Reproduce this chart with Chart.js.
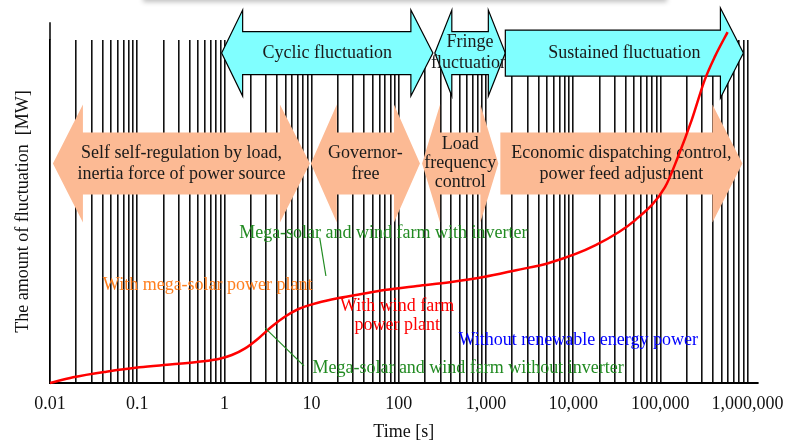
<!DOCTYPE html>
<html>
<head>
<meta charset="utf-8">
<script src="https://cdn.jsdelivr.net/npm/chart.js@4/dist/chart.umd.min.js"></script>
<style>
  body { margin: 0; background: #fff; }
  #wrap { position: relative; width: 794px; height: 443px; overflow: hidden; }
  #shade { position: absolute; left: 143px; width: 524px; top: -10px; height: 10px;
           box-shadow: 0 2px 5px rgba(0,0,0,0.25); background: #fff; }
</style>
</head>
<body>
<div id="wrap">
  <canvas id="chart" width="794" height="443"></canvas>
  <div id="shade"></div>
</div>
<script>
// red curve
const times = [0.01, 0.0184, 0.0442, 0.106, 0.253, 0.508, 0.859, 1.217, 1.73, 2.45, 3.47, 4.93, 6.98,
    11.8, 19.9, 33.6, 68.2, 162, 384, 937, 2220, 5270, 18100, 51500, 113000, 159000, 229000, 322000, 419000, 590000];
const amounts = [0, 1.66, 3.29, 4.58, 5.45, 6.21, 7.0, 8.16, 10.1, 13.0, 16.4, 19.3, 21.5,
    23.4, 24.7, 25.7, 27.1, 28.3, 29.4, 30.9, 32.9, 35.0, 40.2, 47.5, 57.1, 65.9, 76.7, 88.3, 95.0, 102.3];

// decade ticks on the time axis
const tickValues = [0.01, 0.1, 1, 10, 100, 1000, 10000, 100000, 1000000];
const tickLabels = ["0.01", "0.1", "1", "10", "100", "1,000", "10,000", "100,000", "1,000,000"];

const FONT = "'Liberation Serif', 'Times New Roman', serif";
const CYAN = "#80FFFF";
const SALMON = "#FCBA94";

// all minor grid lines 1..9 x 10^n
const gridTicks = [];
tickValues.forEach((v, i) => {
    if (i === tickValues.length - 1) { gridTicks.push(v); return; }
    for (let k = 1; k <= 9; k++) gridTicks.push(v * k);
});

// band arrows: from / to in seconds, y in axis units, half heights in px
const arrows = [
    { from: 0.93, to: 246, y: 96.2, body: 21.5, head: 43, left: 21, right: 22, fill: CYAN, stroke: "#000", lines: ["Cyclic fluctuation"], gap: 21 },
    { from: 259, to: 1667, y: 96.2, body: 21.5, head: 43, left: 17, right: 17, fill: CYAN, stroke: "#000", lines: ["Fringe", "fluctuation"], gap: 21 },
    { from: 1667, to: 896000, y: 96.2, body: 23, head: 45, left: 0, right: 23, fill: CYAN, stroke: "#000", lines: ["Sustained fluctuation"], gap: 21 },
    { from: 0.0108, to: 9.57, y: 64.0, body: 31, head: 59, left: 30, right: 30, fill: SALMON, stroke: null, lines: ["Self self-regulation by load,", "inertia force of power source"], gap: 21 },
    { from: 9.8, to: 175, y: 64.0, body: 31, head: 59, left: 26, right: 26, fill: SALMON, stroke: null, lines: ["Governor-", "free"], gap: 21 },
    { from: 185, to: 1387, y: 64.0, body: 31, head: 59, left: 18, right: 18, fill: SALMON, stroke: null, lines: ["Load", "frequency", "control"], gap: 19 },
    { from: 1462, to: 873000, y: 64.0, body: 31, head: 59, left: 0, right: 30, fill: SALMON, stroke: null, lines: ["Economic dispatching control,", "power feed adjustment"], gap: 21 }
];

// free text notes
const notes = [
    { t: 66.5, y: 43.7, color: "#228B22", lines: ["Mega-solar and wind farm with inverter"] },
    { t: 0.644, y: 28.6, color: "#FF8020", lines: ["With mega-solar power plant"] },
    { t: 95.9, y: 19.6, color: "#FF0000", lines: ["With wind farm", "power plant"] },
    { t: 11430, y: 12.5, color: "#0000FF", lines: ["Without renewable energy power"] },
    { t: 624, y: 4.4, color: "#228B22", lines: ["Mega-solar and wind farm without inverter"] }
];
const leaders = [
    { t0: 12.4, y0: 42.3, t1: 14.6, y1: 31.2 },
    { t0: 2.94, y0: 16.0, t1: 8.17, y1: 5.0 }
];
const yAxisTop = 105.2;

const bandPlugin = {
    id: "bands",
    beforeDatasetsDraw(chart) {
        const { ctx, scales: { x, y } } = chart;
        ctx.save();
        // y axis runs a bit above the grid
        ctx.strokeStyle = "#000";
        ctx.lineWidth = 1.5;
        ctx.beginPath();
        ctx.moveTo(chart.chartArea.left, y.getPixelForValue(yAxisTop));
        ctx.lineTo(chart.chartArea.left, chart.chartArea.top);
        ctx.stroke();

        arrows.forEach(a => {
            const x0 = x.getPixelForValue(a.from);
            const x1 = x.getPixelForValue(a.to);
            const yc = y.getPixelForValue(a.y);
            ctx.beginPath();
            if (a.left) {
                ctx.moveTo(x0, yc);
                ctx.lineTo(x0 + a.left, yc - a.head);
                ctx.lineTo(x0 + a.left, yc - a.body);
            } else {
                ctx.moveTo(x0, yc - a.body);
            }
            ctx.lineTo(x1 - a.right, yc - a.body);
            ctx.lineTo(x1 - a.right, yc - a.head);
            ctx.lineTo(x1, yc);
            ctx.lineTo(x1 - a.right, yc + a.head);
            ctx.lineTo(x1 - a.right, yc + a.body);
            if (a.left) {
                ctx.lineTo(x0 + a.left, yc + a.body);
                ctx.lineTo(x0 + a.left, yc + a.head);
            } else {
                ctx.lineTo(x0, yc + a.body);
            }
            ctx.closePath();
            ctx.fillStyle = a.fill;
            ctx.fill();
            if (a.stroke) {
                ctx.strokeStyle = a.stroke;
                ctx.lineWidth = 1.2;
                ctx.stroke();
            }
            ctx.fillStyle = "#1a1a1a";
            ctx.font = "18px " + FONT;
            ctx.textAlign = "center";
            ctx.textBaseline = "middle";
            const cx = (x0 + x1) / 2;
            const start = yc - (a.lines.length - 1) * a.gap / 2;
            a.lines.forEach((s, i) => ctx.fillText(s, cx, start + i * a.gap));
        });
        ctx.restore();
    },
    afterDatasetsDraw(chart) {
        const { ctx, scales: { x, y } } = chart;
        ctx.save();
        ctx.font = "18px " + FONT;
        ctx.textAlign = "center";
        ctx.textBaseline = "middle";
        notes.forEach(n => {
            ctx.fillStyle = n.color;
            const cx = x.getPixelForValue(n.t);
            const cy = y.getPixelForValue(n.y);
            const start = cy - (n.lines.length - 1) * 19 / 2;
            n.lines.forEach((s, i) => ctx.fillText(s, cx, start + i * 19));
        });
        ctx.strokeStyle = "#228B22";
        ctx.lineWidth = 1.2;
        leaders.forEach(l => {
            ctx.beginPath();
            ctx.moveTo(x.getPixelForValue(l.t0), y.getPixelForValue(l.y0));
            ctx.lineTo(x.getPixelForValue(l.t1), y.getPixelForValue(l.y1));
            ctx.stroke();
        });
        ctx.restore();
    }
};

new Chart(document.getElementById("chart"), {
    type: "line",
    data: {
        datasets: [{
            data: times.map((t, i) => ({ x: t, y: amounts[i] })),
            borderColor: "#FF0000",
            borderWidth: 2.5,
            pointRadius: 0,
            cubicInterpolationMode: "monotone",
            fill: false,
            clip: false
        }]
    },
    options: {
        responsive: false,
        animation: false,
        devicePixelRatio: 1,
        layout: { padding: { top: 40, right: 31, left: 0, bottom: 0 } },
        plugins: { legend: { display: false }, tooltip: { enabled: false } },
        scales: {
            x: {
                type: "logarithmic",
                min: 0.01,
                max: 1300000,
                afterBuildTicks: scale => { scale.ticks = gridTicks.map(v => ({ value: v })); },
                afterFit: scale => { scale.height = 60; },
                grid: { color: "#111", lineWidth: 1.6, drawTicks: false },
                border: { display: true, color: "#000", width: 2 },
                ticks: {
                    autoSkip: false,
                    maxRotation: 0,
                    minRotation: 0,
                    padding: 10,
                    color: "#111",
                    font: { family: FONT, size: 18 },
                    callback: value => {
                        const i = tickValues.findIndex(v => Math.abs(v - value) / v < 1e-6);
                        return i >= 0 ? tickLabels[i] : "";
                    }
                },
                title: {
                    display: true,
                    text: "Time [s]",
                    color: "#111",
                    font: { family: FONT, size: 18 },
                    padding: { top: 0, bottom: 0 }
                }
            },
            y: {
                type: "linear",
                min: 0,
                max: 100,
                afterFit: scale => { scale.width = 50; },
                grid: { display: false },
                border: { display: true, color: "#000", width: 1.5 },
                ticks: { display: false },
                title: {
                    display: true,
                    text: "The amount of fluctuation  [MW]",
                    color: "#111",
                    font: { family: FONT, size: 18 },
                    padding: { top: 12, bottom: 0 }
                }
            }
        }
    },
    plugins: [bandPlugin]
});
</script>
</body>
</html>
